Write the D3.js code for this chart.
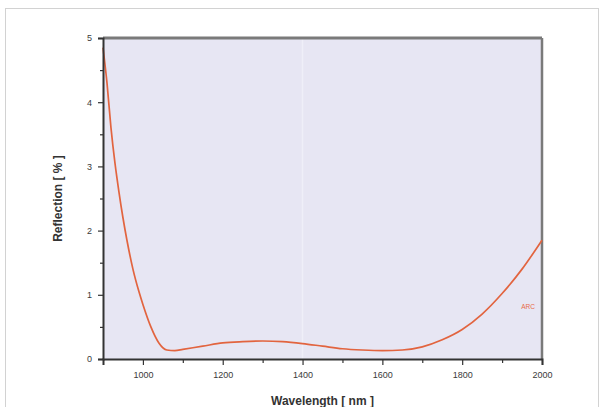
<!DOCTYPE html>
<html>
<head>
<meta charset="utf-8">
<script src="https://cdn.jsdelivr.net/npm/d3@7"></script>
<style>
  html, body { margin: 0; padding: 0; background: #fff; }
  svg { display: block; font-family: "Liberation Sans", Arial, sans-serif; }
</style>
</head>
<body>
<svg id="chart" width="604" height="407"></svg>
<script>
// Reflection spectrum of an AR coating
const wavelength = [900, 910, 920, 930, 940, 950, 960, 975, 990, 1000, 1020, 1040, 1060, 1080, 1100, 1150, 1200, 1250, 1300, 1350, 1400, 1450, 1500, 1550, 1600, 1650, 1700, 1750, 1800, 1850, 1900, 1950, 2000];
const reflection = [4.85, 4.3, 3.6, 3.05, 2.6, 2.2, 1.85, 1.4, 1.05, 0.85, 0.5, 0.25, 0.14, 0.13, 0.15, 0.2, 0.25, 0.27, 0.28, 0.27, 0.24, 0.2, 0.16, 0.14, 0.13, 0.14, 0.19, 0.3, 0.46, 0.7, 1.02, 1.4, 1.85];
const xTicks = [1000, 1200, 1400, 1600, 1800, 2000];
const xMinor = [1100, 1300, 1500, 1700, 1900];
const yTicks = [0, 1, 2, 3, 4, 5];
const yMinor = [0.5, 1.5, 2.5, 3.5, 4.5];
const seriesLabel = "ARC";

const svg = d3.select("#chart");
const m = { left: 103, top: 38, right: 542, bottom: 359 };

const x = d3.scaleLinear().domain([900, 2000]).range([m.left, m.right]);
const y = d3.scaleLinear().domain([0, 5]).range([m.bottom, m.top]);

// outer frame
svg.append("rect").attr("x", 5.5).attr("y", 8.5).attr("width", 593).attr("height", 410)
  .attr("fill", "#fff").attr("stroke", "#d2d2d2").attr("stroke-width", 1);

// plot background
svg.append("rect").attr("x", m.left).attr("y", m.top)
  .attr("width", m.right - m.left).attr("height", m.bottom - m.top)
  .attr("fill", "#e7e6f3");

// faint grid line
svg.append("line").attr("x1", x(1400)).attr("x2", x(1400))
  .attr("y1", m.top).attr("y2", m.bottom)
  .attr("stroke", "#efeff8").attr("stroke-width", 1.5);

// top and right frame
svg.append("line").attr("x1", m.left).attr("x2", m.right).attr("y1", m.top).attr("y2", m.top)
  .attr("stroke", "#7a7a7a").attr("stroke-width", 3);
svg.append("line").attr("x1", m.right).attr("x2", m.right).attr("y1", m.top).attr("y2", m.bottom)
  .attr("stroke", "#7a7a7a").attr("stroke-width", 2.5);

// curve
const line = d3.line()
  .x((d, i) => x(wavelength[i]))
  .y(d => y(d))
  .curve(d3.curveMonotoneX);
svg.append("path").datum(reflection)
  .attr("d", line)
  .attr("fill", "none")
  .attr("stroke", "#e2643f")
  .attr("stroke-width", 1.7);

// series label
svg.append("text").attr("x", x(1965)).attr("y", y(0.78))
  .attr("text-anchor", "middle").attr("font-size", 6.5)
  .attr("fill", "#e86a48").text(seriesLabel);

// x axis
svg.append("g").attr("transform", `translate(0,${m.bottom})`)
  .call(d3.axisBottom(x).tickValues(xTicks).tickFormat(d3.format("d")).tickSize(6).tickPadding(7));
svg.append("g").attr("transform", `translate(0,${m.bottom})`)
  .call(d3.axisBottom(x).tickValues(xMinor).tickFormat("").tickSize(4))
  .call(g => g.select(".domain").remove());

// y axis
svg.append("g").attr("transform", `translate(${m.left},0)`)
  .call(d3.axisLeft(y).tickValues(yTicks).tickFormat(d3.format("d")).tickSize(5).tickPadding(6));
svg.append("g").attr("transform", `translate(${m.left},0)`)
  .call(d3.axisLeft(y).tickValues(yMinor).tickFormat("").tickSize(3))
  .call(g => g.select(".domain").remove());

svg.selectAll(".domain").attr("stroke", "#333").attr("stroke-width", 2);
svg.selectAll(".tick line").attr("stroke", "#333").attr("stroke-width", 1.2);
svg.selectAll(".tick text").attr("font-size", 9).attr("fill", "#3a3a3a");

// axis titles
svg.append("text").attr("x", (m.left + m.right) / 2).attr("y", 405)
  .attr("text-anchor", "middle").attr("font-size", 12).attr("font-weight", "bold")
  .attr("fill", "#333").text("Wavelength [ nm ]");
svg.append("text").attr("transform", `translate(62,${(m.top + m.bottom) / 2}) rotate(-90)`)
  .attr("text-anchor", "middle").attr("font-size", 12).attr("font-weight", "bold")
  .attr("fill", "#333").text("Reflection [ % ]");
</script>
</body>
</html>
